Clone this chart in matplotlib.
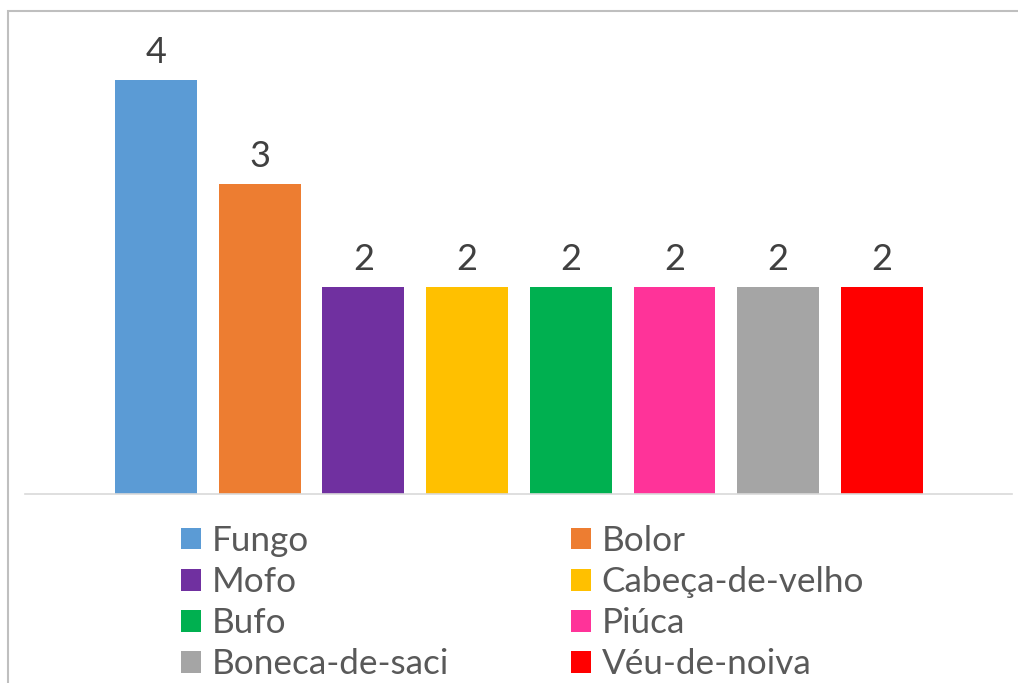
import matplotlib
matplotlib.use("Agg")
import matplotlib.pyplot as plt
from matplotlib.patches import Patch, Rectangle

names = ["Fungo", "Bolor", "Mofo", "Cabeça-de-velho", "Bufo", "Piúca", "Boneca-de-saci", "Véu-de-noiva"]
counts = [4, 3, 2, 2, 2, 2, 2, 2]
colors = ["#5B9BD5", "#ED7D31", "#7030A0", "#FFC000", "#00B050", "#FF3399", "#A5A5A5", "#FF0000"]

plt.rcParams["font.family"] = ["Lato", "DejaVu Sans"]
txt = "#595959"

W, H = 1018, 683
fig = plt.figure(figsize=(W / 100, H / 100), dpi=100)

# outer chart border (runs off right/bottom edge)
fig.patches.append(Rectangle((8 / W, -0.1), 1.2, 1 - 11 / H + 0.1, transform=fig.transFigure,
                             fill=False, edgecolor="#BFBFBF", linewidth=1.5))

ax = fig.add_axes([25 / W, (H - 494) / H, 987 / W, (494 - 20) / H])
x = list(range(len(names)))
bars = ax.bar(x, counts, width=0.79, color=colors)
ax.set_xlim(-1.263, 7 + 1.254)
ax.set_ylim(0, 474 / 103.5)
for b, v in zip(bars, counts):
    ax.annotate(str(v), (b.get_x() + b.get_width() / 2, v), xytext=(0, 12), textcoords="offset points",
                ha="center", va="baseline", fontsize=26, color="#404040")

for s in ["top", "right", "left"]:
    ax.spines[s].set_visible(False)
ax.spines["bottom"].set_color("#D9D9D9")
ax.spines["bottom"].set_linewidth(1.2)
ax.set_xticks([])
ax.set_yticks([])

# legend reads row-wise in the original, matplotlib fills column-wise
order = [0, 2, 4, 6, 1, 3, 5, 7]
handles = [Patch(facecolor=colors[i], label=names[i]) for i in order]
fig.legend(handles=handles, ncol=2, loc="upper left", bbox_to_anchor=(181 / W, 1 - 525 / H),
           frameon=False, fontsize=25.3, labelcolor=txt, handlelength=0.57, handleheight=0.57,
           handletextpad=0.31, columnspacing=3.46, labelspacing=0.26, borderpad=0, borderaxespad=0)

fig.savefig("out.png", dpi=100, facecolor="white")
